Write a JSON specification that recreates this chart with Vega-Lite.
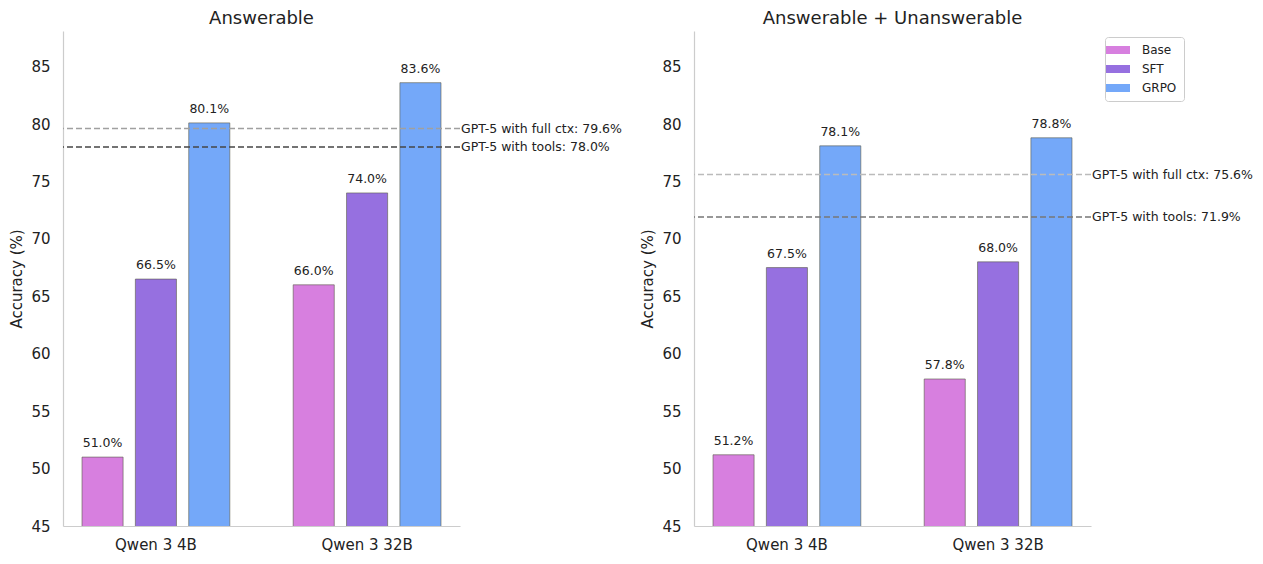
{
  "$schema": "https://vega.github.io/schema/vega-lite/v6.json",
  "background": "white",
  "padding": {"left": 9, "top": 10, "right": 5, "bottom": 5},
  "config": {
    "font": "DejaVu Sans",
    "view": {"stroke": null},
    "axis": {"labelFont": "DejaVu Sans", "titleFont": "DejaVu Sans", "labelColor": "#222", "titleColor": "#222", "grid": false, "ticks": false, "domainColor": "#cccccc", "domainWidth": 1.2, "labelFontSize": 15, "titleFontSize": 15, "titleFontWeight": "normal"},
    "title": {"font": "DejaVu Sans", "fontSize": 18, "fontWeight": "normal", "color": "#222", "offset": 3},
    "legend": {"labelFont": "DejaVu Sans", "labelFontSize": 12, "labelColor": "#222"}
  },
  "datasets": {
    "bars": [
      {"panel": "A", "group": "Qwen 3 4B", "model": "Base", "acc": 51.0, "label": "51.0%"},
      {"panel": "A", "group": "Qwen 3 4B", "model": "SFT", "acc": 66.5, "label": "66.5%"},
      {"panel": "A", "group": "Qwen 3 4B", "model": "GRPO", "acc": 80.1, "label": "80.1%"},
      {"panel": "A", "group": "Qwen 3 32B", "model": "Base", "acc": 66.0, "label": "66.0%"},
      {"panel": "A", "group": "Qwen 3 32B", "model": "SFT", "acc": 74.0, "label": "74.0%"},
      {"panel": "A", "group": "Qwen 3 32B", "model": "GRPO", "acc": 83.6, "label": "83.6%"},
      {"panel": "B", "group": "Qwen 3 4B", "model": "Base", "acc": 51.2, "label": "51.2%"},
      {"panel": "B", "group": "Qwen 3 4B", "model": "SFT", "acc": 67.5, "label": "67.5%"},
      {"panel": "B", "group": "Qwen 3 4B", "model": "GRPO", "acc": 78.1, "label": "78.1%"},
      {"panel": "B", "group": "Qwen 3 32B", "model": "Base", "acc": 57.8, "label": "57.8%"},
      {"panel": "B", "group": "Qwen 3 32B", "model": "SFT", "acc": 68.0, "label": "68.0%"},
      {"panel": "B", "group": "Qwen 3 32B", "model": "GRPO", "acc": 78.8, "label": "78.8%"}
    ],
    "refs": [
      {"panel": "A", "ref": "full ctx", "value": 79.6, "label": "GPT-5 with full ctx: 79.6%"},
      {"panel": "A", "ref": "tools", "value": 78.0, "label": "GPT-5 with tools: 78.0%"},
      {"panel": "B", "ref": "full ctx", "value": 75.6, "label": "GPT-5 with full ctx: 75.6%"},
      {"panel": "B", "ref": "tools", "value": 71.9, "label": "GPT-5 with tools: 71.9%"}
    ]
  },
  "bounds": "flush",
  "spacing": 234,
  "resolve": {"scale": {"stroke": "independent"}, "legend": {"color": "independent"}},
  "hconcat": [
    {
      "width": 397,
      "height": 495,
      "title": "Answerable",
      "layer": [
        {
          "data": {"name": "bars"},
          "transform": [{"filter": "datum.panel === 'A'"}],
          "mark": {"type": "bar", "stroke": "#5a5a4a", "strokeWidth": 0.6, "clip": true},
          "encoding": {
            "x": {"field": "group", "type": "nominal", "sort": ["Qwen 3 4B", "Qwen 3 32B"], "scale": {"paddingInner": 0.3, "paddingOuter": 0.09}, "axis": {"title": null, "labelAngle": 0, "labelPadding": 11}},
            "xOffset": {"field": "model", "type": "nominal", "sort": ["Base", "SFT", "GRPO"], "scale": {"paddingInner": 0.23, "paddingOuter": 0}},
            "y": {"field": "acc", "type": "quantitative", "scale": {"domain": [45, 88.1], "nice": false, "zero": false}, "axis": {"title": "Accuracy (%)", "values": [45, 50, 55, 60, 65, 70, 75, 80, 85], "labelPadding": 13, "titlePadding": 6}},
            "color": {"field": "model", "type": "nominal", "sort": ["Base", "SFT", "GRPO"], "scale": {"domain": ["Base", "SFT", "GRPO"], "range": ["#d77fdf", "#9670e0", "#74a8f9"]}, "legend": null}
          }
        },
        {
          "data": {"name": "bars"},
          "transform": [{"filter": "datum.panel === 'A'"}],
          "mark": {"type": "text", "baseline": "bottom", "dy": -7, "fontSize": 12.5, "color": "#222"},
          "encoding": {
            "x": {"field": "group", "type": "nominal", "sort": ["Qwen 3 4B", "Qwen 3 32B"]},
            "xOffset": {"field": "model", "type": "nominal", "sort": ["Base", "SFT", "GRPO"]},
            "y": {"field": "acc", "type": "quantitative"},
            "text": {"field": "label"}
          }
        },
        {
          "data": {"name": "refs"},
          "transform": [{"filter": "datum.panel === 'A'"}],
          "mark": {"type": "rule", "strokeDash": [6, 3], "strokeWidth": 1.5},
          "encoding": {
            "y": {"field": "value", "type": "quantitative"},
            "stroke": {"field": "ref", "type": "nominal", "scale": {"domain": ["full ctx", "tools"], "range": ["#a0a0a0", "#454545"]}, "legend": null}
          }
        },
        {
          "data": {"name": "refs"},
          "transform": [{"filter": "datum.panel === 'A'"}],
          "mark": {"type": "text", "align": "left", "baseline": "middle", "dx": 1, "fontSize": 12.5, "color": "#222"},
          "encoding": {
            "x": {"value": "width"},
            "y": {"field": "value", "type": "quantitative"},
            "text": {"field": "label"}
          }
        }
      ]
    },
    {
      "width": 397,
      "height": 495,
      "title": "Answerable + Unanswerable",
      "layer": [
        {
          "data": {"name": "bars"},
          "transform": [{"filter": "datum.panel === 'B'"}],
          "mark": {"type": "bar", "stroke": "#5a5a4a", "strokeWidth": 0.6, "clip": true},
          "encoding": {
            "x": {"field": "group", "type": "nominal", "sort": ["Qwen 3 4B", "Qwen 3 32B"], "scale": {"paddingInner": 0.3, "paddingOuter": 0.09}, "axis": {"title": null, "labelAngle": 0, "labelPadding": 11}},
            "xOffset": {"field": "model", "type": "nominal", "sort": ["Base", "SFT", "GRPO"], "scale": {"paddingInner": 0.23, "paddingOuter": 0}},
            "y": {"field": "acc", "type": "quantitative", "scale": {"domain": [45, 88.1], "nice": false, "zero": false}, "axis": {"title": "Accuracy (%)", "values": [45, 50, 55, 60, 65, 70, 75, 80, 85], "labelPadding": 13, "titlePadding": 6}},
            "color": {"field": "model", "type": "nominal", "sort": ["Base", "SFT", "GRPO"], "scale": {"domain": ["Base", "SFT", "GRPO"], "range": ["#d77fdf", "#9670e0", "#74a8f9"]},
              "legend": {"title": null, "orient": "none", "legendX": 411, "legendY": 6, "strokeColor": "#cccccc", "fillColor": "white", "cornerRadius": 3, "padding": 7, "symbolType": "M-3,-1H3V1H-3Z", "symbolSize": 64, "symbolStrokeWidth": 0, "symbolOpacity": 1, "rowPadding": 7, "labelOffset": 18}}
          }
        },
        {
          "data": {"name": "bars"},
          "transform": [{"filter": "datum.panel === 'B'"}],
          "mark": {"type": "text", "baseline": "bottom", "dy": -7, "fontSize": 12.5, "color": "#222"},
          "encoding": {
            "x": {"field": "group", "type": "nominal", "sort": ["Qwen 3 4B", "Qwen 3 32B"]},
            "xOffset": {"field": "model", "type": "nominal", "sort": ["Base", "SFT", "GRPO"]},
            "y": {"field": "acc", "type": "quantitative"},
            "text": {"field": "label"}
          }
        },
        {
          "data": {"name": "refs"},
          "transform": [{"filter": "datum.panel === 'B'"}],
          "mark": {"type": "rule", "strokeDash": [6, 3], "strokeWidth": 1.5},
          "encoding": {
            "y": {"field": "value", "type": "quantitative"},
            "stroke": {"field": "ref", "type": "nominal", "scale": {"domain": ["full ctx", "tools"], "range": ["#bbbbbb", "#777777"]}, "legend": null}
          }
        },
        {
          "data": {"name": "refs"},
          "transform": [{"filter": "datum.panel === 'B'"}],
          "mark": {"type": "text", "align": "left", "baseline": "middle", "dx": 1, "fontSize": 12.5, "color": "#222"},
          "encoding": {
            "x": {"value": "width"},
            "y": {"field": "value", "type": "quantitative"},
            "text": {"field": "label"}
          }
        }
      ]
    }
  ]
}
